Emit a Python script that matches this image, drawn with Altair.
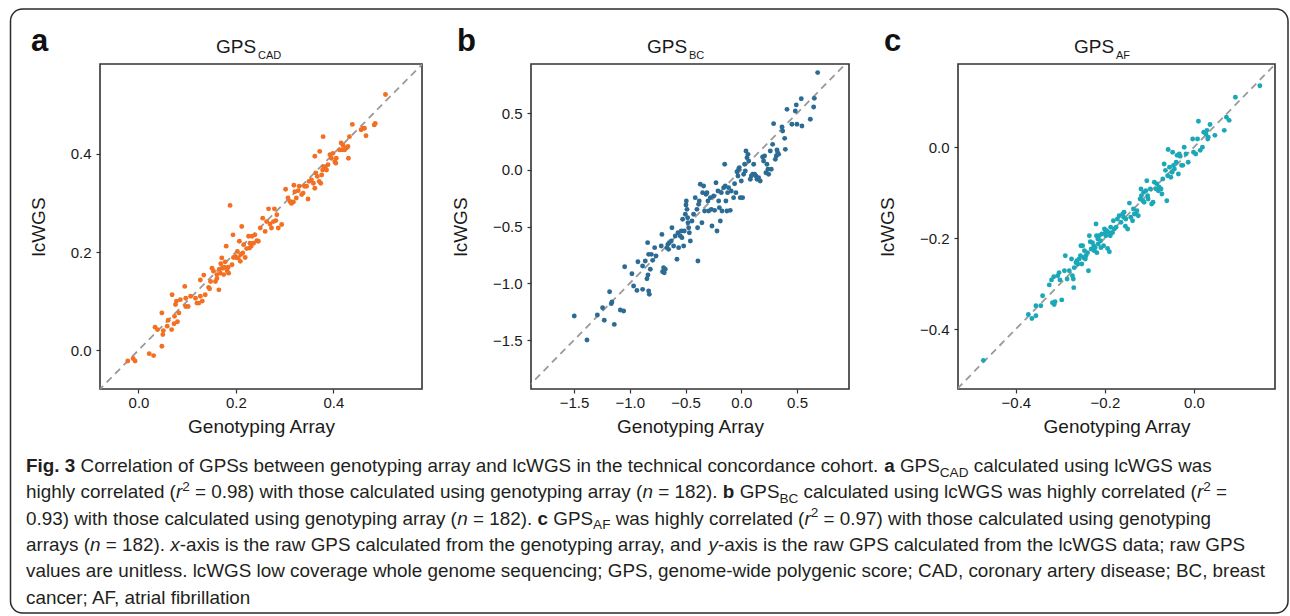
import altair as alt
import pandas as pd

# ---------------- data ----------------
CAD_ARRAY = [-0.022,-0.011,-0.007,0.022,0.031,0.048,0.034,0.039,0.050,0.051,0.048,0.059,0.061,0.068,0.069,0.073,0.074,0.076,0.078,0.080,
             0.083,0.086,0.095,0.097,0.097,0.102,0.107,0.117,0.120,0.124,0.127,0.131,0.127,0.134,0.137,0.144,0.146,0.148,0.151,0.154,
             0.158,0.161,0.161,0.165,0.166,0.168,0.169,0.171,0.173,0.175,0.176,0.178,0.180,0.182,0.184,0.185,0.188,0.192,0.194,0.195,
             0.199,0.202,0.203,0.205,0.207,0.209,0.210,0.212,0.214,0.216,0.219,0.222,0.226,0.228,0.229,0.231,0.233,0.236,0.239,0.243,
             0.246,0.250,0.255,0.260,0.263,0.267,0.270,0.273,0.277,0.279,0.282,0.284,0.287,0.294,0.302,0.307,0.311,0.314,0.318,0.319,
             0.321,0.324,0.328,0.330,0.335,0.338,0.341,0.345,0.348,0.350,0.355,0.359,0.362,0.362,0.364,0.367,0.371,0.372,0.374,0.376,
             0.378,0.379,0.380,0.382,0.384,0.386,0.389,0.393,0.396,0.399,0.403,0.405,0.406,0.413,0.416,0.418,0.420,0.423,0.427,0.430,
             0.431,0.433,0.439,0.457,0.461,0.464,0.467,0.484,0.486,0.507]
CAD_WGS = [-0.022,-0.017,-0.022,-0.007,-0.011,0.008,0.047,0.042,0.032,0.040,0.076,0.049,0.061,0.042,0.113,0.054,0.069,0.093,0.100,0.058,
           0.076,0.103,0.130,0.106,0.089,0.089,0.110,0.106,0.096,0.096,0.110,0.100,0.143,0.153,0.113,0.128,0.125,0.140,0.167,0.161,
           0.140,0.154,0.146,0.123,0.165,0.157,0.176,0.188,0.167,0.154,0.169,0.180,0.212,0.162,0.169,0.157,0.295,0.174,0.235,0.189,
           0.191,0.188,0.201,0.188,0.222,0.181,0.195,0.252,0.198,0.215,0.189,0.207,0.232,0.208,0.218,0.212,0.232,0.218,0.235,0.223,
           0.222,0.249,0.269,0.242,0.262,0.288,0.257,0.249,0.262,0.288,0.264,0.276,0.249,0.256,0.328,0.310,0.303,0.299,0.302,0.336,
           0.323,0.310,0.325,0.334,0.317,0.320,0.334,0.334,0.308,0.344,0.347,0.340,0.330,0.395,0.361,0.354,0.344,0.405,0.340,0.357,
           0.367,0.435,0.374,0.371,0.374,0.367,0.378,0.398,0.391,0.401,0.384,0.381,0.391,0.408,0.422,0.408,0.417,0.408,0.412,0.415,
           0.391,0.435,0.460,0.449,0.452,0.452,0.437,0.459,0.462,0.521]

BC_ARRAY = [-1.498,-1.384,-1.291,-1.244,-1.229,-1.181,-1.166,-1.160,-1.139,-1.085,-1.055,-1.046,-0.981,-0.966,-0.936,-0.927,-0.885,-0.885,
            -0.861,-0.846,-0.840,-0.837,-0.831,-0.831,-0.825,-0.816,-0.807,-0.795,-0.777,-0.765,-0.718,-0.712,-0.706,-0.697,-0.691,-0.682,
            -0.667,-0.658,-0.652,-0.646,-0.628,-0.622,-0.607,-0.592,-0.577,-0.568,-0.562,-0.547,-0.538,-0.532,-0.526,-0.517,-0.511,-0.502,
            -0.496,-0.493,-0.487,-0.481,-0.478,-0.472,-0.466,-0.457,-0.442,-0.428,-0.413,-0.398,-0.392,-0.389,-0.383,-0.377,-0.368,-0.353,
            -0.347,-0.338,-0.329,-0.317,-0.308,-0.299,-0.293,-0.278,-0.269,-0.263,-0.248,-0.239,-0.227,-0.218,-0.209,-0.203,-0.197,-0.188,
            -0.179,-0.173,-0.158,-0.149,-0.144,-0.138,-0.129,-0.123,-0.114,-0.099,-0.090,-0.069,-0.060,-0.048,-0.039,-0.030,-0.024,-0.018,
            -0.009,0.000,0.012,0.021,0.030,0.036,0.042,0.051,0.060,0.066,0.081,0.090,0.102,0.111,0.120,0.132,0.141,0.155,0.170,0.191,
            0.200,0.209,0.221,0.230,0.239,0.245,0.260,0.269,0.281,0.290,0.305,0.314,0.320,0.326,0.335,0.365,0.371,0.389,0.395,0.410,
            0.454,0.484,0.493,0.499,0.544,0.538,0.619,0.649,0.655,0.685]
BC_WGS = [-1.288,-1.500,-1.279,-1.215,-1.326,-1.074,-1.179,-1.165,-1.362,-1.235,-1.244,-0.853,-0.915,-1.024,-1.062,-0.809,-1.053,-0.847,
          -0.803,-0.959,-0.641,-0.926,-0.744,-1.068,-1.097,-0.876,-0.744,-0.797,-0.685,-0.759,-0.671,-0.568,-0.897,-0.862,-0.906,-0.876,
          -0.685,-0.656,-0.700,-0.641,-0.626,-0.509,-0.671,-0.582,-0.788,-0.553,-0.685,-0.582,-0.538,-0.597,-0.435,-0.671,-0.538,-0.391,
          -0.309,-0.274,-0.347,-0.421,-0.465,-0.509,-0.553,-0.626,-0.450,-0.391,-0.244,-0.347,-0.509,-0.803,-0.303,-0.274,-0.126,-0.465,
          -0.200,-0.141,-0.362,-0.215,-0.200,-0.274,-0.362,-0.244,-0.347,-0.494,-0.229,-0.356,-0.112,-0.538,-0.185,-0.274,-0.332,-0.450,
          -0.200,-0.362,-0.156,0.050,-0.141,-0.274,-0.362,-0.200,-0.156,-0.356,-0.185,-0.244,-0.121,-0.200,-0.015,-0.053,0.006,0.021,
          -0.244,-0.097,-0.244,-0.038,0.050,-0.009,0.168,0.109,0.138,0.079,-0.082,-0.053,-0.038,0.050,-0.038,-0.053,-0.082,-0.068,-0.097,0.115,
          0.079,0.124,-0.024,0.050,0.006,-0.038,0.168,0.006,0.226,0.409,0.094,0.124,0.176,0.153,0.138,0.379,0.344,0.279,0.182,0.535,
          0.403,0.521,0.574,0.403,0.388,0.629,0.447,0.556,0.632,0.859]

AF_ARRAY = [-0.473,-0.372,-0.364,-0.355,-0.355,-0.344,-0.340,-0.325,-0.320,-0.318,-0.315,-0.314,-0.312,-0.306,-0.303,-0.301,-0.297,-0.291,
            -0.289,-0.285,-0.280,-0.275,-0.273,-0.271,-0.270,-0.269,-0.265,-0.263,-0.261,-0.258,-0.255,-0.254,-0.252,-0.250,-0.248,-0.246,
            -0.244,-0.243,-0.239,-0.237,-0.235,-0.233,-0.231,-0.228,-0.225,-0.224,-0.222,-0.220,-0.219,-0.218,-0.216,-0.215,-0.213,-0.210,
            -0.209,-0.207,-0.203,-0.201,-0.199,-0.198,-0.196,-0.194,-0.190,-0.190,-0.188,-0.187,-0.183,-0.181,-0.179,-0.175,-0.172,-0.168,
            -0.164,-0.160,-0.158,-0.157,-0.154,-0.153,-0.149,-0.145,-0.142,-0.138,-0.136,-0.134,-0.130,-0.128,-0.125,-0.121,-0.119,-0.118,
            -0.115,-0.113,-0.112,-0.108,-0.106,-0.104,-0.103,-0.098,-0.095,-0.092,-0.089,-0.085,-0.083,-0.080,-0.078,-0.074,-0.072,-0.070,
            -0.067,-0.064,-0.061,-0.059,-0.058,-0.055,-0.052,-0.049,-0.048,-0.046,-0.044,-0.040,-0.038,-0.035,-0.033,-0.031,-0.028,-0.025,
            -0.022,-0.018,-0.013,-0.003,-0.001,0.004,0.008,0.010,0.014,0.019,0.022,0.027,0.029,0.031,0.032,0.036,0.047,0.068,0.073,0.079,
            0.093,0.148]
AF_WGS = [-0.469,-0.368,-0.377,-0.371,-0.349,-0.349,-0.327,-0.303,-0.292,-0.342,-0.285,-0.346,-0.340,-0.283,-0.276,-0.292,-0.336,-0.272,
          -0.239,-0.290,-0.272,-0.246,-0.283,-0.290,-0.309,-0.265,-0.254,-0.250,-0.257,-0.246,-0.239,-0.217,-0.257,-0.217,-0.243,-0.228,
          -0.246,-0.239,-0.232,-0.272,-0.195,-0.208,-0.224,-0.210,-0.217,-0.228,-0.221,-0.169,-0.195,-0.232,-0.202,-0.213,-0.195,-0.206,
          -0.221,-0.191,-0.217,-0.180,-0.188,-0.195,-0.184,-0.223,-0.230,-0.188,-0.195,-0.176,-0.188,-0.162,-0.180,-0.176,-0.158,-0.151,
          -0.165,-0.147,-0.154,-0.143,-0.174,-0.158,-0.180,-0.123,-0.154,-0.162,-0.136,-0.147,-0.147,-0.140,-0.151,-0.114,-0.092,-0.107,
          -0.118,-0.099,-0.121,-0.096,-0.074,-0.107,-0.114,-0.092,-0.125,-0.121,-0.077,-0.092,-0.081,-0.096,-0.088,-0.092,-0.103,-0.070,
          -0.037,-0.051,-0.118,-0.063,-0.005,-0.044,-0.066,-0.055,-0.011,-0.040,-0.048,-0.033,-0.018,-0.059,-0.015,-0.020,-0.040,-0.040,
          0.000,-0.015,-0.033,0.018,-0.011,-0.015,0.018,0.057,-0.007,0.000,0.033,0.029,0.037,0.018,0.022,0.050,0.026,0.037,0.066,0.059,
          0.110,0.135]

PANEL_NAMES = ["CAD", "BC", "AF"]
PANEL_LETTERS = ["a", "b", "c"]
PANEL_COLORS = ["#F36F21", "#2C6B93", "#1AA8B8"]
X_DOMAINS = [[-0.079, 0.582], [-1.886, 0.966], [-0.530, 0.182]]
Y_DOMAINS = [[-0.079, 0.583], [-1.932, 0.935], [-0.532, 0.183]]
TICKS = [[0.0, 0.2, 0.4], [-1.5, -1.0, -0.5, 0.0, 0.5], [-0.4, -0.2, 0.0]]
DIAG = [[-0.1, 0.6], [-2.0, 1.0], [-0.55, 0.2]]
PANEL_WIDTHS = [322, 318, 317]

CAPTION = [
    [("Fig. 3", "b"), (" Correlation of GPSs between genotyping array and lcWGS in the technical concordance cohort. ", "r"),
     ("a", "b"), (" GPS", "r"), ("CAD", "sub"), (" calculated using lcWGS was", "r")],
    [("highly correlated (", "r"), ("r", "i"), ("2", "sup"), (" = 0.98) with those calculated using genotyping array (", "r"),
     ("n", "i"), (" = 182). ", "r"), ("b", "b"), (" GPS", "r"), ("BC", "sub"),
     (" calculated using lcWGS was highly correlated (", "r"), ("r", "i"), ("2", "sup"), (" =", "r")],
    [("0.93) with those calculated using genotyping array (", "r"), ("n", "i"), (" = 182). ", "r"), ("c", "b"), (" GPS", "r"),
     ("AF", "sub"), (" was highly correlated (", "r"), ("r", "i"), ("2", "sup"), (" = 0.97) with those calculated using genotyping", "r")],
    [("arrays (", "r"), ("n", "i"), (" = 182). ", "r"), ("x", "i"),
     ("-axis is the raw GPS calculated from the genotyping array, and ", "r"), ("y", "i"),
     ("-axis is the raw GPS calculated from the lcWGS data; raw GPS", "r")],
    [("values are unitless. lcWGS low coverage whole genome sequencing; GPS, genome-wide polygenic score; CAD, coronary artery disease; BC, breast", "r")],
    [("cancer; AF, atrial fibrillation", "r")],
]

# ---------------- layout helpers ----------------
FONT = "Liberation Sans"
INK = "#1a1a1a"

W_REG = {" ": 278, "!": 278, "(": 333, ")": 333, ",": 278, "-": 333, ".": 278, "/": 278, ":": 278, ";": 278, "=": 584,
         "A": 667, "B": 667, "C": 722, "D": 722, "E": 667, "F": 611, "G": 778, "H": 722, "I": 278, "J": 500, "K": 667,
         "L": 556, "M": 833, "N": 722, "O": 778, "P": 667, "Q": 778, "R": 722, "S": 667, "T": 611, "U": 722, "V": 667,
         "W": 944, "X": 667, "Y": 667, "Z": 611, "a": 556, "b": 556, "c": 500, "d": 556, "e": 556, "f": 278, "g": 556,
         "h": 556, "i": 222, "j": 222, "k": 500, "l": 222, "m": 833, "n": 556, "o": 556, "p": 556, "q": 556, "r": 333,
         "s": 500, "t": 278, "u": 556, "v": 500, "w": 722, "x": 500, "y": 500, "z": 500}
W_BOLD = {" ": 278, ".": 278, "F": 611, "i": 278, "g": 611, "a": 556, "b": 611, "c": 556}


def em_width(text, kind):
    table = W_BOLD if kind == "b" else W_REG
    w = sum(table.get(ch, 556) for ch in text) / 1000.0
    return w * (0.72 if kind in ("sub", "sup") else 1.0)


CAP_FS = 1240.0 / sum(em_width(t, k) for t, k in CAPTION[4])
CAP_X0 = -74
CAP_BASE = [31, 57, 83.5, 110, 136, 162.5]
SHIFT = {"sub": 4.5, "sup": -7.5}

rows = []
for li, line in enumerate(CAPTION):
    pos = 0.0
    for text, kind in line:
        stripped = text.lstrip(" ")
        pos += (len(text) - len(stripped)) * 0.278 * CAP_FS
        rows.append({"x": CAP_X0 + pos, "y": CAP_BASE[li] + SHIFT.get(kind, 0), "t": stripped, "k": kind})
        pos += em_width(stripped, kind) * CAP_FS
cap_df = pd.DataFrame(rows)

one = pd.DataFrame({"o": [0]})


def panel(i, arr, wgs):
    df = pd.DataFrame({"ga": arr, "wgs": wgs})
    xs = alt.Scale(domain=X_DOMAINS[i], nice=False, zero=False)
    ys = alt.Scale(domain=Y_DOMAINS[i], nice=False, zero=False)
    xa = alt.Axis(values=TICKS[i], format=".1f", title="Genotyping Array", titlePadding=7, labelPadding=2,
                  grid=False, domain=False)
    ya = alt.Axis(values=TICKS[i], format=".1f", title="lcWGS", titlePadding=22, labelPadding=5,
                  grid=False, domain=False)
    diag = alt.Chart(pd.DataFrame({"ga": DIAG[i], "wgs": DIAG[i]})).mark_line(
        color="#9a9a9a", strokeDash=[7, 5], strokeWidth=1.8, clip=True
    ).encode(x=alt.X("ga:Q", scale=xs, axis=xa), y=alt.Y("wgs:Q", scale=ys, axis=ya))
    pts = alt.Chart(df).mark_circle(size=24, color=PANEL_COLORS[i], opacity=1).encode(
        x=alt.X("ga:Q", scale=xs, axis=xa), y=alt.Y("wgs:Q", scale=ys, axis=ya))
    gps = alt.Chart(one).mark_text(font=FONT, fontSize=19, align="left", baseline="alphabetic", color=INK).encode(
        x=alt.value(116), y=alt.value(-11), text=alt.value("GPS"))
    sub = alt.Chart(one).mark_text(font=FONT, fontSize=11, align="left", baseline="alphabetic", color=INK).encode(
        x=alt.value(158), y=alt.value(-5), text=alt.value(PANEL_NAMES[i]))
    letter = alt.Chart(one).mark_text(font=FONT, fontSize=31, fontWeight="bold", align="left",
                                      baseline="alphabetic", color="#111111").encode(
        x=alt.value(-69 if i == 0 else -74), y=alt.value(-13), text=alt.value(PANEL_LETTERS[i]))
    return alt.layer(diag, pts, gps, sub, letter).properties(
        width=PANEL_WIDTHS[i], height=325,
        view=alt.ViewBackground(stroke="#333333", strokeWidth=1.6))


STYLE = {"r": dict(), "b": dict(fontWeight="bold"), "i": dict(fontStyle="italic"), "sub": dict(), "sup": dict()}
cap_layers = [alt.Chart(one).mark_rect(fill="white", fillOpacity=0, stroke="#2b2b2b", strokeWidth=1.5,
                                       cornerRadius=12).encode(
    x=alt.value(-89.5), x2=alt.value(1188), y=alt.value(-432), y2=alt.value(172))]
for kind, extra in STYLE.items():
    fs = CAP_FS * (0.72 if kind in ("sub", "sup") else 1.0)
    cap_layers.append(
        alt.Chart(cap_df[cap_df["k"] == kind]).mark_text(
            font=FONT, fontSize=fs, align="left", baseline="alphabetic", color="#231F20", **extra
        ).encode(x=alt.X("x:Q", scale=None, axis=None), y=alt.Y("y:Q", scale=None, axis=None), text="t:N"))

caption = alt.layer(*cap_layers).properties(width=1, height=150,
                                            view=alt.ViewBackground(stroke="transparent"))

chart = alt.concat(
    panel(0, CAD_ARRAY, CAD_WGS), panel(1, BC_ARRAY, BC_WGS), panel(2, AF_ARRAY, AF_WGS), caption,
    columns=3, spacing=alt.RowColnumber(row=52, column=109), bounds="flush", align="each"
).properties(
    padding={"left": 9, "top": 7, "right": 0, "bottom": 0}, background="white"
).configure_axis(
    labelFont=FONT, titleFont=FONT, labelFontSize=15, titleFontSize=19, titleFontWeight="normal",
    labelColor=INK, titleColor=INK, tickColor="#333333", tickSize=4, tickWidth=1.2, domain=False, grid=False
)

chart.save("out.html", embed_options={"renderer": "svg", "actions": False})
